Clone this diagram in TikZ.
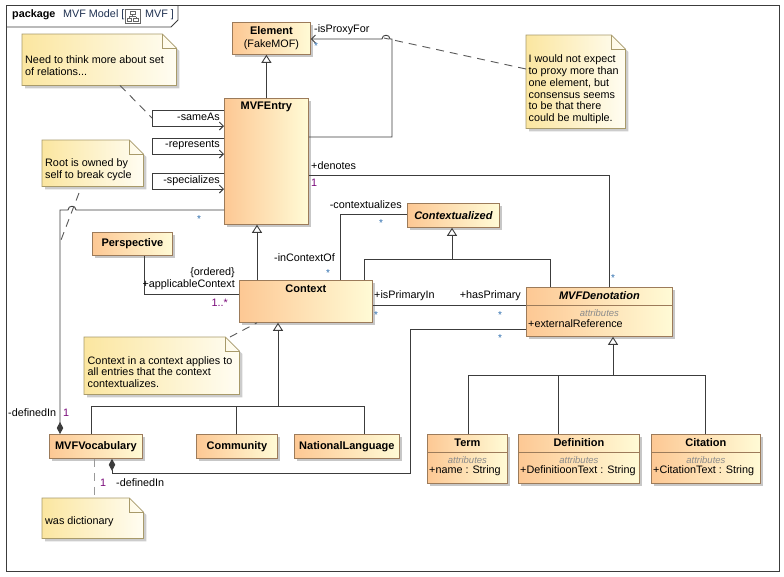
\documentclass[tikz,border=0pt]{standalone}
\usepackage{fontspec}
\setmainfont{Liberation Sans}
\usetikzlibrary{arrows.meta,calc,shadows}
\definecolor{clsL}{HTML}{FDC894}
\definecolor{clsR}{HTML}{FFFBD6}
\definecolor{clsB}{HTML}{9C7B5A}
\definecolor{noteL}{HTML}{FBE6A0}
\definecolor{noteR}{HTML}{FFFDF2}
\definecolor{noteB}{HTML}{A89A6A}
\definecolor{mult}{HTML}{2F6FAF}
\definecolor{one}{HTML}{7A0A7A}
\definecolor{ln}{HTML}{3C3C3C}
\definecolor{pkg}{HTML}{1E3050}
\newcommand\mynote[1]{%
  \fill[black!20] ($(#1.north west)+(3,3)$) -- ($(#1.north east)+(-11,3)$) -- ($(#1.north east)+(3,17)$) -- ($(#1.south east)+(3,3)$) -- ($(#1.south west)+(3,3)$) -- cycle;
  \draw[draw=noteB, line width=0.8pt, left color=noteL, right color=noteR] (#1.north west) -- ($(#1.north east)+(-14,0)$) -- ($(#1.north east)+(0,14)$) -- (#1.south east) -- (#1.south west) -- cycle;
  \draw[noteB, line width=0.8pt] ($(#1.north east)+(-14,0)$) -- ($(#1.north east)+(-14,14)$) -- ($(#1.north east)+(0,14)$);
}
\tikzset{
  cls/.style={draw=clsB, line width=0.8pt, left color=clsL, right color=clsR, inner sep=0, anchor=north west,
    drop shadow={shadow xshift=2.5pt, shadow yshift=-2.5pt, fill=black!22, opacity=1}},
  notebox/.style={inner sep=0, anchor=north west},
  cname/.style={font=\fontsize{11}{12}\selectfont\bfseries, inner sep=0},
  iname/.style={font=\fontsize{11}{12}\selectfont\bfseries\itshape, inner sep=0},
  lbl/.style={font=\fontsize{10.8}{12}\selectfont, inner sep=0},
  notetext/.style={font=\fontsize{10.8}{11.8}\selectfont, inner sep=0, align=left, anchor=west},
  attrs/.style={font=\fontsize{9.5}{10}\selectfont\itshape, text=black!45, inner sep=0},
  star/.style={font=\fontsize{10}{10}\selectfont, text=mult, inner sep=0},
  mone/.style={font=\fontsize{10.8}{12}\selectfont, text=one, inner sep=0},
  assoc/.style={draw=ln, line width=0.9pt},
  gen/.style={assoc, -{Triangle[open, length=8pt, width=10pt, fill=white]}},
  nav/.style={assoc, -{Straight Barb[length=4pt, width=8pt]}},
  comp/.style={assoc, -{Diamond[length=12pt, width=6.5pt, fill=ln]}},
  dlink/.style={draw=black!65, line width=0.9pt, dash pattern=on 8pt off 6pt},
}
\begin{document}
\begin{tikzpicture}[x=1pt,y=-1pt]
\useasboundingbox (0,0) rectangle (784,576);
\fill[white] (0,0) rectangle (784,576);
% frame
\draw[ln, line width=0.9pt] (6,5) rectangle (779,571);
\draw[ln, line width=0.9pt] (6,27) -- (171,27) -- (178,20) -- (178,5);
\node[font=\fontsize{10.8}{12}\selectfont\bfseries, anchor=west, inner sep=0] (pk) at (12,15) {package};
\node[font=\fontsize{10.8}{12}\selectfont, text=pkg, anchor=west, inner sep=0] (pkn) at (63,15) {MVF Model [};
\node[draw=black!60, fill=white, minimum width=15pt, minimum height=14pt, inner sep=0, anchor=north west] (icon) at (125,9) {};
\draw[black!60, line width=0.6pt] (130,11) rectangle (135,14.5) (127,18.5) rectangle (131.5,21.5) (133.5,18.5) rectangle (138,21.5)
  (132.5,14.5) -- (132.5,16.5) (129,16.5) -- (136,16.5) (129,16.5) -- (129,18.5) (136,16.5) -- (136,18.5);
\node[font=\fontsize{10.8}{12}\selectfont, text=pkg, anchor=west, inner sep=0] (pkm) at (145,15) {MVF ]};

% classes
\node[cls, minimum width=78pt, minimum height=32pt] (elem) at (232,22) {};
\node[cname] (elemN) at ([yshift=-9pt]elem.north) {Element};
\node[lbl] (elemS) at ([yshift=-23pt]elem.north) {(FakeMOF)};

\node[cls, minimum width=84pt, minimum height=126pt] (ent) at (224,98) {};
\node[cname] (entN) at ([yshift=-9pt]ent.north) {MVFEntry};

\node[cls, minimum width=80pt, minimum height=23pt] (persp) at (92,232) {};
\node[cname] (perspN) at (persp.center) {Perspective};

\node[cls, minimum width=133pt, minimum height=42pt] (ctx) at (239,280) {};
\node[cname] (ctxN) at ([yshift=-9pt]ctx.north) {Context};

\node[cls, minimum width=92pt, minimum height=24pt] (ctxd) at (407,203) {};
\node[iname] (ctxdN) at (ctxd.center) {Contextualized};

\node[cls, minimum width=146pt, minimum height=49pt] (den) at (526,287) {};
\node[iname] (denN) at ([yshift=-9pt]den.north) {MVFDenotation};
\draw[clsB, line width=0.8pt] ([yshift=-18pt]den.north west) -- ([yshift=-18pt]den.north east);
\node[attrs] (denA) at ([yshift=-26pt]den.north) {attributes};
\node[lbl, anchor=west] (denX) at ([xshift=2pt, yshift=-37pt]den.north west) {+externalReference};

\node[cls, minimum width=93pt, minimum height=24pt] (voc) at (49,434) {};
\node[cname] (vocN) at (voc.center) {MVFVocabulary};
\node[cls, minimum width=81pt, minimum height=24pt] (com) at (196,434) {};
\node[cname] (comN) at (com.center) {Community};
\node[cls, minimum width=105pt, minimum height=24pt] (nat) at (294,434) {};
\node[cname] (natN) at (nat.center) {NationalLanguage};

\node[cls, minimum width=80pt, minimum height=49pt] (term) at (427,434) {};
\node[cname] (termN) at ([yshift=-9pt]term.north) {Term};
\draw[clsB, line width=0.8pt] ([yshift=-18pt]term.north west) -- ([yshift=-18pt]term.north east);
\node[attrs] (termA) at ([yshift=-26pt]term.north) {attributes};
\node[lbl, anchor=west] (termX) at ([xshift=2pt, yshift=-37pt]term.north west) {+name : String};

\node[cls, minimum width=121pt, minimum height=49pt] (def) at (518,434) {};
\node[cname] (defN) at ([yshift=-9pt]def.north) {Definition};
\draw[clsB, line width=0.8pt] ([yshift=-18pt]def.north west) -- ([yshift=-18pt]def.north east);
\node[attrs] (defA) at ([yshift=-26pt]def.north) {attributes};
\node[lbl, anchor=west] (defX) at ([xshift=2pt, yshift=-37pt]def.north west) {+DefinitioonText : String};

\node[cls, minimum width=109pt, minimum height=49pt] (cit) at (651,434) {};
\node[cname] (citN) at ([yshift=-9pt]cit.north) {Citation};
\draw[clsB, line width=0.8pt] ([yshift=-18pt]cit.north west) -- ([yshift=-18pt]cit.north east);
\node[attrs] (citA) at ([yshift=-26pt]cit.north) {attributes};
\node[lbl, anchor=west] (citX) at ([xshift=2pt, yshift=-37pt]cit.north west) {+CitationText : String};

% notes
\node[notebox, minimum width=154pt, minimum height=51pt] (n1) at (22,34) {};
\mynote{n1}
\node[notetext] (n1t) at (25,65.5) {Need to think more about set\\of relations...};
\node[notebox, minimum width=99pt, minimum height=93pt] (n2) at (526,35) {};
\mynote{n2}
\node[notetext] (n2t) at (528.5,89.5) {I would not expect\\to proxy more than\\one element, but\\consensus seems\\to be that there\\could be multiple.};
\node[notebox, minimum width=101pt, minimum height=46pt] (n3) at (42,140) {};
\mynote{n3}
\node[notetext] (n3t) at (45,170) {Root is owned by\\self to break cycle};
\node[notebox, minimum width=155pt, minimum height=57pt] (n4) at (84,337) {};
\mynote{n4}
\node[notetext] (n4t) at (87.5,372) {Context in a context applies to\\all entries that the context\\contextualizes.};
\node[notebox, minimum width=101pt, minimum height=40pt] (n5) at (42,498) {};
\mynote{n5}
\node[notetext] (n5t) at (45,522) {was dictionary};

% generalizations
\draw[gen] (ent.north) -- (ent.north |- elem.south);
\draw[gen] (ctx.north -| 257,0) -- (ent.south -| 257,0);
\draw[gen] (ctx.north -| 364,0) -- (364,259) -- (452,259) -- (ctxd.south -| 452,0);
\draw[assoc] (452,259) -- (550,259) -- (den.north -| 550,0);
\draw[gen] (voc.north -| 91,0) -- (91,406) -- (278,406) -- (ctx.south -| 278,0);
\draw[assoc] (com.north -| 236,0) -- (236,406);
\draw[assoc] (nat.north -| 364,0) -- (364,406) -- (278,406);
\draw[gen] (term.north -| 468,0) -- (468,375) -- (613,375) -- (den.south -| 613,0);
\draw[assoc] (def.north -| 558,0) -- (558,375);
\draw[assoc] (cit.north -| 705,0) -- (705,375) -- (613,375);

% associations
\draw[nav] (ent.east |- 0,137) -- (392,137) -- (392,39) -- (390,39) .. controls (390,34) and (382,34) .. (382,39) -- (elem.east |- 0,39);
\draw[nav] (ent.west |- 0,110) -- (152,110) -- (152,126) -- (ent.west |- 0,126);
\draw[nav] (ent.west |- 0,138) -- (152,138) -- (152,154) -- (ent.west |- 0,154);
\draw[nav] (ent.west |- 0,173) -- (152,173) -- (152,189) -- (ent.west |- 0,189);
\draw[comp] (ent.west |- 0,210) -- (76,210) .. controls (76,205) and (68,205) .. (68,210) -- (60,210) -- (voc.north -| 60,0);
\draw[assoc] (ent.east |- 0,175) -- (609,175) -- (den.north -| 609,0);
\draw[assoc] (persp.south -| 144,0) -- (144,294) -- (ctx.west |- 0,294);
\draw[assoc] (ctx.north -| 340,0) -- (340,214) -- (ctxd.west |- 0,214);
\draw[assoc] (ctx.east |- 0,305) -- (den.west |- 0,305);
\draw[comp] (den.west |- 0,329) -- (410,329) -- (410,473) -- (112,473) -- (voc.south -| 112,0);

% note links
\draw[dlink] (n1.south -| 120,0) -- (152,118);
\draw[dlink] (n2.west |- 0,69) -- (384,38);
\draw[dlink] (79,193) -- (61,240);
\draw[dlink] (n4.north -| 230,0) -- (ctx.south -| 257,0);
\draw[dlink, draw=black!40] (voc.south -| 94,0) -- (n5.north -| 94,0);

% labels
\node[lbl, anchor=west] (l1) at (314,30) {-isProxyFor};
\node[star] (s1) at (316,46) {*};
\node[lbl, anchor=east] (l2) at (220,117) {-sameAs};
\node[lbl, anchor=east] (l3) at (220,145) {-represents};
\node[lbl, anchor=east] (l4) at (220,181) {-specializes};
\node[lbl, anchor=west] (l5) at (311,166) {+denotes};
\node[mone, anchor=west] (m1) at (311,183) {1};
\node[star] (s2) at (199,219) {*};
\node[lbl, anchor=east] (l6) at (235,273) {\{ordered\}};
\node[lbl, anchor=east] (l7) at (235,285) {+applicableContext};
\node[mone, anchor=east] (m2) at (228,303) {1..*};
\node[lbl, anchor=east] (l8) at (335,258) {-inContextOf};
\node[star] (s3) at (328,273) {*};
\node[lbl, anchor=east] (l9) at (402,205) {-contextualizes};
\node[star] (s4) at (381,223) {*};
\node[lbl, anchor=west] (l10) at (374,296) {+isPrimaryIn};
\node[star] (s5) at (376,315) {*};
\node[lbl, anchor=east] (l11) at (521,296) {+hasPrimary};
\node[star] (s6) at (500,315) {*};
\node[star] (s7) at (613,278) {*};
\node[star] (s8) at (500,338) {*};
\node[lbl, anchor=west] (l12) at (8,413) {-definedIn};
\node[mone, anchor=west] (m3) at (63,413) {1};
\node[mone, anchor=west] (m4) at (100,483) {1};
\node[lbl, anchor=west] (l13) at (116,483) {-definedIn};
\end{tikzpicture}
\end{document}
